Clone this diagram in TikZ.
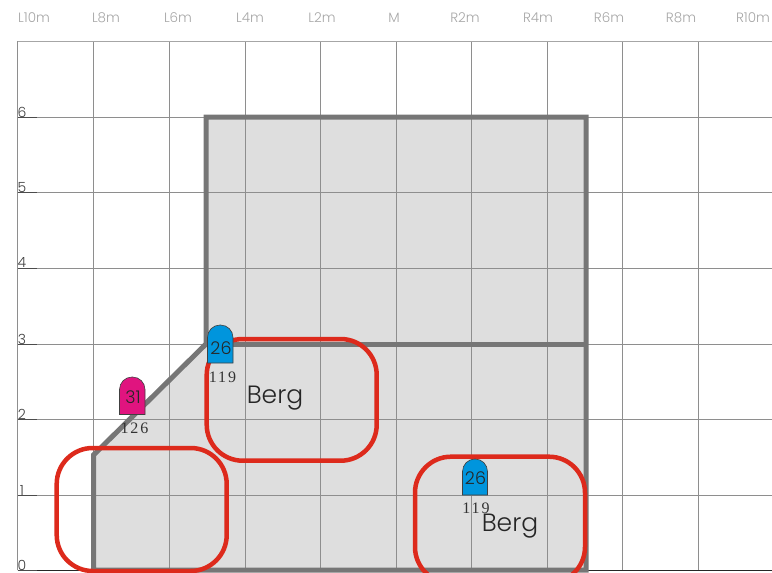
\documentclass[tikz,border=0pt]{standalone}
\usepackage{fontspec}
\setmainfont{Poppins Light}
\newfontfamily\numfont[LetterSpace=12]{Liberation Serif}
\definecolor{gridgray}{HTML}{8E8E8E}
\definecolor{wallgray}{HTML}{767676}
\definecolor{floorgray}{HTML}{DEDEDE}
\definecolor{bergred}{HTML}{DD2A1C}
\definecolor{markblue}{HTML}{0095DD}
\definecolor{markpink}{HTML}{E0147F}
\tikzset{
    gridline/.style={draw=gridgray, line width=1pt},
    wall/.style={draw=wallgray, line width=5pt, line cap=butt, line join=miter},
    bergbox/.style={draw=bergred, line width=4.5pt, rounded corners=36pt},
    marker/.style={draw=black!75, line width=0.6pt},
    axislabel/.style={text=black!35, font=\fontsize{13.5}{14}\selectfont, inner sep=0pt},
    levellabel/.style={text=black!75, font=\fontsize{14}{15}\selectfont, inner sep=0pt},
    marknum/.style={text=black!85, font=\fontsize{17.5}{18}\selectfont, inner sep=0pt},
    markpts/.style={text=black!80, font=\numfont\fontsize{16}{17}\selectfont, inner sep=0pt},
    berglabel/.style={text=black!85, font=\fontsize{25}{26}\selectfont, inner sep=0pt},
}
\begin{document}
\begin{tikzpicture}[x=1pt, y=-1pt]
    \useasboundingbox (0,0) rectangle (772,573);
    \clip (0,0) rectangle (772,573);

    % Floor
    \fill[floorgray] (93.5,570) -- (93.5,455) -- (206,344) -- (206,117) -- (586,117) -- (586,570) -- cycle;

    % Grid
    \foreach \x in {17.5,93.5,169,245,320.5,396,471.5,547,622.5,698.5}
        \draw[gridline] (\x,41) -- (\x,570);
    \foreach \y in {117,192,268,344,419,495}
        \draw[gridline] (17.5,\y) -- (772,\y);
    \draw[draw=black!35, line width=1pt] (17.5,41) -- (772,41);
    \draw[draw=black!85, line width=1pt] (17.5,570.5) -- (772,570.5);

    % Walls
    \draw[wall] (93.5,570) -- (93.5,455) -- (206,344) -- (206,117) -- (586,117) -- (586,570) -- cycle;
    \draw[wall] (206,344) -- (586,344);

    % Axis labels
    \foreach \x/\t in {34/L10m,106/L8m,178/L6m,250/L4m,322/L2m,394/M,465/R2m,538/R4m,609/R6m,681/R8m,753/R10m}
        \node[axislabel] (top\t) at (\x,18) {\t};
    \foreach \y/\t in {117/6,192/5,268/4,344/3,419/2,495/1,570/0} {
        \node[levellabel] (level\t) at (22,\y-5) {\t};
        \draw[draw=black!70, line width=1pt] (17.5,\y) -- (37,\y);
    }

    % Berg boxes
    \draw[bergbox] (56.7,448) rectangle (226.7,571);
    \draw[bergbox] (206.7,339) rectangle (376.7,460.7);
    \draw[bergbox] (415,456.7) rectangle (585,583);

    % Markers
    \draw[marker, fill=markblue] (207.5,363) [rounded corners=12.5pt] -- (207.5,325) -- (233,325) [sharp corners] -- (233,363) -- cycle;
    \draw[marker, fill=markpink] (119.5,414.5) [rounded corners=12.5pt] -- (119.5,377) -- (145,377) [sharp corners] -- (145,414.5) -- cycle;
    \draw[marker, fill=markblue] (462.5,495) [rounded corners=12.5pt] -- (462.5,459) -- (487.5,459) [sharp corners] -- (487.5,495) -- cycle;

    % Labels
    \node[marknum] (numa) at (221,348) {26};
    \node[marknum] (numb) at (133,397) {31};
    \node[marknum] (numc) at (475.5,478) {26};
    \node[markpts] (ptsa) at (222.5,377) {119};
    \node[markpts] (ptsb) at (134.5,428) {126};
    \node[markpts] (ptsc) at (476,508) {119};
    \node[berglabel] (berga) at (275,398) {Berg};
    \node[berglabel] (bergb) at (510,526) {Berg};
\end{tikzpicture}
\end{document}
